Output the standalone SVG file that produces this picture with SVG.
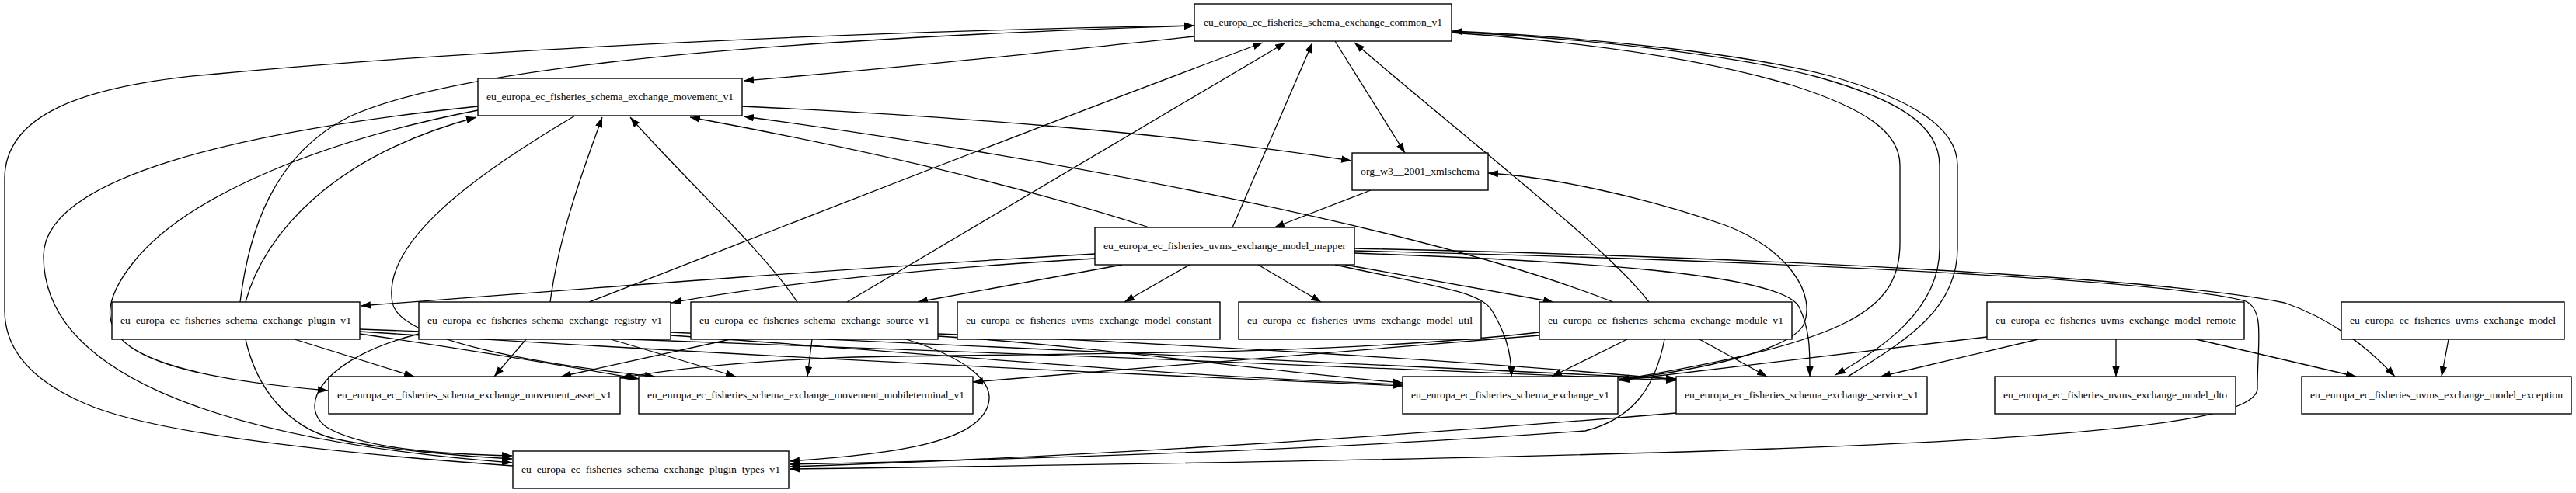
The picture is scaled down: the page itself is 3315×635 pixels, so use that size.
<svg xmlns="http://www.w3.org/2000/svg" width="3315" height="635" viewBox="0 0 3315 635">
<style>
.n rect{fill:#fff;stroke:#000;stroke-width:1.4}
.n text{font-family:"Liberation Serif","Times New Roman",serif;font-size:12px;fill:#000;text-anchor:middle}
.e path{fill:none;stroke:#000;stroke-width:1.3;marker-end:url(#a)}
.e path.p{marker-end:none}
</style>
<defs>
<marker id="a" markerUnits="userSpaceOnUse" markerWidth="14" markerHeight="10" refX="13" refY="4.7" orient="auto"><path d="M0,0 L13,4.7 L0,9.4 z" fill="#000"/></marker>
</defs>
<rect width="3315" height="635" fill="#fff"/>
<g class="e" id="edges">
<path d="M660,600 C450,585 200,560 110,520 C40,490 6,450 6,400 L6,230 C6,150 100,110 280,95 C600,65 1100,40 1537,33"/>
<path d="M309,389 C320,300 350,200 450,150 C560,100 850,55 1537,33"/>
<path d="M316,389 C340,300 430,200 613,151"/>
<path d="M1537,47 C1300,72 1150,88 957,104"/>
<path d="M758,389 C950,315 1250,195 1625,55"/>
<path d="M1090,389 L1654,55"/>
<path d="M1586,293 L1689,55"/>
<path d="M1718,53 L1808,197"/>
<path d="M2122,389 C2070,320 1900,190 1743,55"/>
<path d="M1868,42 C2050,55 2200,78 2307,110 C2400,140 2445,170 2445,213 L2445,313 C2445,400 2380,440 2084,489"/>
<path d="M1868,41 C2050,50 2240,72 2342,100 C2440,128 2496,160 2496,213 L2496,320 C2496,400 2420,450 2362,483"/>
<path d="M2378,485 C2450,440 2519,400 2519,320 L2519,213 C2519,160 2450,125 2356,98 C2250,70 2050,48 1869,40"/>
<path d="M955,137 C1200,148 1500,170 1739,207"/>
<path d="M615,137 C300,170 56,230 56,330 C56,470 250,565 659,596"/>
<path d="M615,142 C420,180 240,250 170,340 C100,430 150,480 422,503"/>
<path d="M740,149 C620,220 490,310 505,390 C515,440 700,470 843,485"/>
<path d="M708,389 C720,300 750,220 775,151"/>
<path d="M1026,389 C980,320 880,230 811,151"/>
<path d="M1479,293 C1300,235 1100,190 888,151"/>
<path d="M2076,389 C1850,300 1400,210 957,150"/>
<path d="M1764,245 L1640,293"/>
<path d="M1409,327 C1100,345 800,368 464,394"/>
<path d="M1409,333 C1200,345 1000,365 864,390"/>
<path d="M1444,341 L1181,389"/>
<path d="M1531,341 L1447,389"/>
<path d="M1619,341 L1700,389"/>
<path d="M1718,341 C1850,370 1905,375 1920,400 C1935,425 1945,450 1945,485"/>
<path d="M1731,341 L1999,389"/>
<path d="M1743,326 C2000,335 2290,350 2315,395 C2330,425 2329,455 2329,485"/>
<path d="M1743,320 C2300,332 2800,360 2940,390 C3000,410 3050,450 3082,485"/>
<path d="M1743,323 C2300,336 2800,362 2890,388 C2915,400 2905,440 2905,500 C2905,560 2500,585 1016,604"/>
<path d="M379,437 L533,485"/>
<path d="M316,437 C330,500 370,550 430,565 C500,580 600,588 659,591"/>
<path d="M463,430 C600,450 720,470 822,488"/>
<path d="M463,427 C900,455 1400,480 1805,497"/>
<path d="M463,424 C1000,445 1600,465 2157,490"/>
<path d="M677,437 L636,485"/>
<path d="M786,437 L947,485"/>
<path d="M539,430 C420,460 380,520 420,550 C470,580 580,585 659,587"/>
<path d="M863,432 C1200,455 1500,485 1805,495"/>
<path d="M863,428 C1300,448 1800,470 2157,488"/>
<path d="M940,437 L722,485"/>
<path d="M1045,437 L1039,485"/>
<path d="M1166,437 C1240,460 1280,490 1272,520 C1260,570 1150,585 1016,594"/>
<path d="M1207,433 C1400,445 1600,475 1805,493"/>
<path d="M1207,430 C1500,442 1900,465 2157,489"/>
<path d="M1981,432 L1252,492"/>
<path d="M1981,428 C1700,460 1300,455 1100,460 C950,465 850,478 798,487"/>
<path d="M2094,437 L1997,485"/>
<path d="M2187,437 L2274,485"/>
<path d="M2142,437 C2130,500 2100,540 2040,555 C1700,580 1300,592 1016,598"/>
<path d="M2157,532 C1700,570 1300,592 1016,601"/>
<path d="M2084,489 C2200,475 2300,450 2320,420 C2340,380 2300,320 2220,290 C2120,255 2000,228 1915,223"/>
<path d="M2557,434 L2084,490"/>
<path d="M2623,437 L2420,485"/>
<path d="M2723,437 L2723,485"/>
<path d="M2826,437 L3032,485"/>
<path d="M3151,437 L3142,485"/>
</g>
<g class="n" id="common_v1"><rect x="1537" y="5" width="331" height="48"/><text x="1702.5" y="33" textLength="307" lengthAdjust="spacingAndGlyphs">eu_europa_ec_fisheries_schema_exchange_common_v1</text></g>
<g class="n" id="movement_v1"><rect x="615" y="101" width="340" height="48"/><text x="785" y="129" textLength="318" lengthAdjust="spacingAndGlyphs">eu_europa_ec_fisheries_schema_exchange_movement_v1</text></g>
<g class="n" id="xmlschema"><rect x="1740" y="197" width="175" height="48"/><text x="1827.5" y="225" textLength="153" lengthAdjust="spacingAndGlyphs">org_w3__2001_xmlschema</text></g>
<g class="n" id="model_mapper"><rect x="1409" y="293" width="334" height="48"/><text x="1576" y="321" textLength="312" lengthAdjust="spacingAndGlyphs">eu_europa_ec_fisheries_uvms_exchange_model_mapper</text></g>
<g class="n" id="plugin_v1"><rect x="144" y="389" width="319" height="48"/><text x="303.5" y="417" textLength="297" lengthAdjust="spacingAndGlyphs">eu_europa_ec_fisheries_schema_exchange_plugin_v1</text></g>
<g class="n" id="registry_v1"><rect x="539" y="389" width="324" height="48"/><text x="701" y="417" textLength="302" lengthAdjust="spacingAndGlyphs">eu_europa_ec_fisheries_schema_exchange_registry_v1</text></g>
<g class="n" id="source_v1"><rect x="889" y="389" width="318" height="48"/><text x="1048" y="417" textLength="296" lengthAdjust="spacingAndGlyphs">eu_europa_ec_fisheries_schema_exchange_source_v1</text></g>
<g class="n" id="model_constant"><rect x="1232" y="389" width="338" height="48"/><text x="1401" y="417" textLength="316" lengthAdjust="spacingAndGlyphs">eu_europa_ec_fisheries_uvms_exchange_model_constant</text></g>
<g class="n" id="model_util"><rect x="1594" y="389" width="312" height="48"/><text x="1750" y="417" textLength="290" lengthAdjust="spacingAndGlyphs">eu_europa_ec_fisheries_uvms_exchange_model_util</text></g>
<g class="n" id="module_v1"><rect x="1981" y="389" width="325" height="48"/><text x="2143.5" y="417" textLength="303" lengthAdjust="spacingAndGlyphs">eu_europa_ec_fisheries_schema_exchange_module_v1</text></g>
<g class="n" id="model_remote"><rect x="2557" y="389" width="331" height="48"/><text x="2722.5" y="417" textLength="309" lengthAdjust="spacingAndGlyphs">eu_europa_ec_fisheries_uvms_exchange_model_remote</text></g>
<g class="n" id="model"><rect x="3013" y="389" width="287" height="48"/><text x="3156.5" y="417" textLength="265" lengthAdjust="spacingAndGlyphs">eu_europa_ec_fisheries_uvms_exchange_model</text></g>
<g class="n" id="movement_asset_v1"><rect x="423" y="485" width="375" height="48"/><text x="610.5" y="513" textLength="353" lengthAdjust="spacingAndGlyphs">eu_europa_ec_fisheries_schema_exchange_movement_asset_v1</text></g>
<g class="n" id="movement_mobileterminal_v1"><rect x="822" y="485" width="430" height="48"/><text x="1037" y="513" textLength="408" lengthAdjust="spacingAndGlyphs">eu_europa_ec_fisheries_schema_exchange_movement_mobileterminal_v1</text></g>
<g class="n" id="exchange_v1"><rect x="1805" y="485" width="277" height="48"/><text x="1943.5" y="513" textLength="255" lengthAdjust="spacingAndGlyphs">eu_europa_ec_fisheries_schema_exchange_v1</text></g>
<g class="n" id="service_v1"><rect x="2157" y="485" width="323" height="48"/><text x="2318.5" y="513" textLength="301" lengthAdjust="spacingAndGlyphs">eu_europa_ec_fisheries_schema_exchange_service_v1</text></g>
<g class="n" id="model_dto"><rect x="2567" y="485" width="310" height="48"/><text x="2722" y="513" textLength="288" lengthAdjust="spacingAndGlyphs">eu_europa_ec_fisheries_uvms_exchange_model_dto</text></g>
<g class="n" id="model_exception"><rect x="2962" y="485" width="347" height="48"/><text x="3135.5" y="513" textLength="325" lengthAdjust="spacingAndGlyphs">eu_europa_ec_fisheries_uvms_exchange_model_exception</text></g>
<g class="n" id="plugin_types_v1"><rect x="660" y="581" width="355" height="48"/><text x="837.5" y="609" textLength="333" lengthAdjust="spacingAndGlyphs">eu_europa_ec_fisheries_schema_exchange_plugin_types_v1</text></g>
</svg>
